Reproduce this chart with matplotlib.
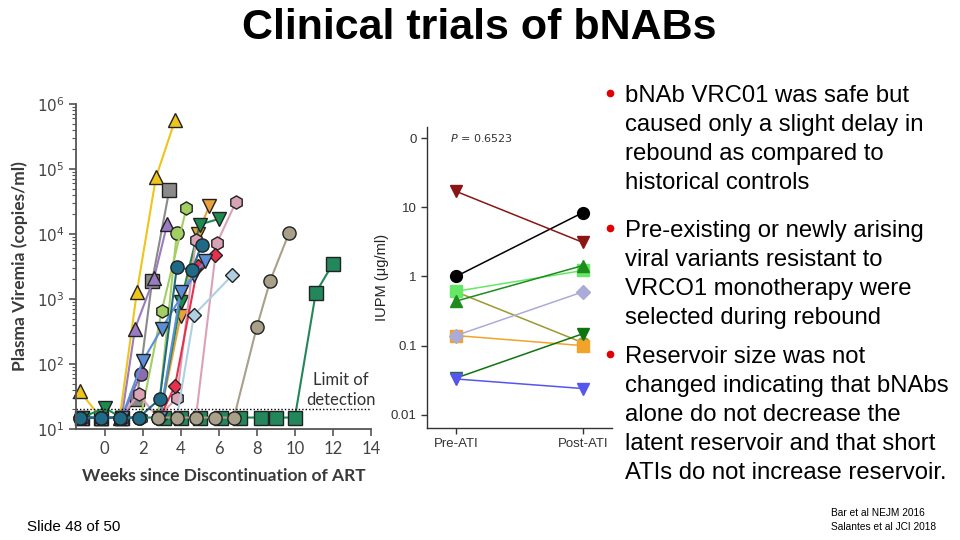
import numpy as np
import matplotlib.pyplot as plt
from matplotlib.ticker import LogLocator, FixedLocator, FixedFormatter, NullFormatter

# ---------- left panel: viremia after ART stop (weeks, copies/ml) ----------
LOD = 20

wk_yellow = [-1.3, -0.2, 0.8, 1.7, 2.7, 3.7]
vl_yellow = [38, 15, 15, 1300, 74000, 560000]
wk_grey = [-1.2, -0.2, 0.9, 1.7, 2.5, 3.4]
vl_grey = [15, 15, 15, 29, 1900, 47000]
wk_purple = [-1.2, -0.2, 0.9, 1.6, 2.6, 3.3]
vl_purple = [15, 15, 15, 350, 2100, 14500]
wk_violet = [-1.2, -0.2, 0.9, 1.9]
vl_violet = [15, 15, 15, 70]
wk_blue1 = [0.9, 2.0, 3.0, 4.7]
vl_blue1 = [15, 110, 350, 2300]
wk_blue2 = [2.9, 4.0, 5.3]
vl_blue2 = [15, 1300, 3900]
wk_lime1 = [1.9, 3.0, 4.3]
vl_lime1 = [15, 650, 25000]
wk_lime2 = [2.8, 3.8]
vl_lime2 = [15, 10500]
wk_orange = [2.9, 4.0, 4.9, 5.5]
vl_orange = [15, 550, 10000, 27000]
wk_dgreen = [-1.2, 0.0, 0.9, 2.9, 4.0, 5.0, 6.0]
vl_dgreen = [15, 21, 15, 15, 900, 14000, 17000]
wk_pink1 = [0.8, 1.8, 2.8]
vl_pink1 = [15, 34, 15]
wk_pink2 = [2.8, 3.8, 4.8]
vl_pink2 = [15, 30, 8000]
wk_pink3 = [4.8, 5.9, 6.9]
vl_pink3 = [15, 7200, 31000]
wk_red = [2.9, 3.7, 4.9, 5.8]
vl_red = [15, 46, 3200, 4700]
wk_lblue = [3.8, 4.7, 6.7]
vl_lblue = [15, 570, 2300]
wk_teal1 = [-1.3, -0.2, 0.8, 1.8, 2.9, 3.8, 4.6, 5.1]
vl_teal1 = [15, 15, 15, 15, 29, 3100, 2800, 6800]
wk_teal2 = [-1.3, -0.2, 0.8, 1.8]
vl_teal2 = [15, 15, 15, 15]
wk_gsq = [3.1, 4.0, 5.0, 6.1, 7.1, 8.2, 9.0, 10.0, 11.1, 12.0]
vl_gsq = [15, 15, 15, 15, 15, 15, 15, 15, 1250, 3500]
wk_tan = [2.8, 3.8, 4.8, 5.8, 6.8, 8.0, 8.7, 9.7]
vl_tan = [15, 15, 15, 15, 15, 370, 1900, 10500]

# ---------- right panel: IUPM pre / post ATI ----------
iupm_groups = ["Pre-ATI", "Post-ATI"]
iupm_olive = [0.60, 0.11]
iupm_orange = [0.14, 0.10]
iupm_lavender = [0.14, 0.60]
iupm_lgreen = [0.61, 1.22]
iupm_green = [0.44, 1.44]
iupm_dgreen = [0.034, 0.149]
iupm_blue = [0.033, 0.024]
iupm_black = [1.0, 8.4]
iupm_maroon = [17.0, 3.1]

fig = plt.figure(figsize=(9.6, 5.4), dpi=100)
fig.patch.set_facecolor("white")

# ---------------- left chart ----------------
axL = fig.add_axes([76/960, 1-429/540, (371-76)/960, (429-104)/540])
left_series = [
    (wk_gsq, vl_gsq, "s", "#22875A"),
    (wk_yellow, vl_yellow, "^", "#EFC41B"),
    (wk_grey, vl_grey, "s", "#8A8A8A"),
    (wk_purple, vl_purple, "^", "#9A7BBF"),
    (wk_violet, vl_violet, "o", "#8C6BB1"),
    (wk_lime2, vl_lime2, "o", "#A3CF62"),
    (wk_lime1, vl_lime1, "h", "#A3CF62"),
    (wk_orange, vl_orange, "v", "#EBA13B"),
    (wk_dgreen, vl_dgreen, "v", "#1F8A50"),
    (wk_pink1, vl_pink1, "h", "#D9A2B5"),
    (wk_pink2, vl_pink2, "h", "#D9A2B5"),
    (wk_pink3, vl_pink3, "h", "#D9A2B5"),
    (wk_red, vl_red, "D", "#E8304D"),
    (wk_lblue, vl_lblue, "D", "#AFCFE2"),
    (wk_blue1, vl_blue1, "v", "#5B8ED6"),
    (wk_blue2, vl_blue2, "v", "#5B8ED6"),
    (wk_teal1, vl_teal1, "o", "#1F6A86"),
    (wk_teal2, vl_teal2, "o", "#1F6A86"),
    (wk_tan, vl_tan, "o", "#A9A089"),
]
for wk, vl, mk, col in left_series:
    ms = 7.5 if mk == "D" else 9.5
    axL.plot(wk, vl, color=col, lw=1.5, marker=mk, ms=ms,
             mfc=col, mec="#222222", mew=1.0, clip_on=False)

axL.axhline(LOD, color="black", ls=(0, (1, 1.5)), lw=1)
axL.text(12.4, 40, "Limit of\ndetection", ha="center", va="center",
         fontsize=12, color="#333333", family="Lato", linespacing=1.35)

axL.set_yscale("log")
axL.set_ylim(10, 1e6)
axL.set_xlim(-1.5, 14)
axL.yaxis.set_major_locator(FixedLocator([1e1, 1e2, 1e3, 1e4, 1e5, 1e6]))
axL.yaxis.set_major_formatter(FixedFormatter([r"$10^{%d}$" % i for i in range(1, 7)]))
axL.yaxis.set_minor_locator(LogLocator(base=10, subs=np.arange(2, 10)))
axL.yaxis.set_minor_formatter(NullFormatter())
axL.set_xticks(range(0, 15, 2))
for s in ["top", "right"]:
    axL.spines[s].set_visible(False)
for s in ["left", "bottom"]:
    axL.spines[s].set_color("#555555")
    axL.spines[s].set_linewidth(1.3)
axL.tick_params(axis="both", which="major", colors="#555555", labelcolor="#444444",
                labelsize=12, length=5, width=1.2)
axL.tick_params(axis="y", which="major", labelsize=11)
axL.tick_params(axis="y", which="minor", colors="#555555", length=3, width=0.8)
for lab in axL.get_xticklabels():
    lab.set_family("Lato")
axL.set_xlabel("Weeks since Discontinuation of ART", fontsize=12.5,
               fontweight="bold", color="#3a3a3a", family="Lato", labelpad=8)
axL.set_ylabel("Plasma Viremia (copies/ml)", fontsize=12.5,
               fontweight="bold", color="#3a3a3a", family="Lato", labelpad=6)

# ---------------- right chart ----------------
axR = fig.add_axes([427/960, 1-428/540, (612-427)/960, (428-127)/540])
right_series = [
    (iupm_olive, "o", "#9C9A2E"),
    (iupm_orange, "s", "#F2A32A"),
    (iupm_lavender, "D", "#ABABD8"),
    (iupm_lgreen, "s", "#66E866"),
    (iupm_green, "^", "#1D8C1D"),
    (iupm_dgreen, "v", "#0F740F"),
    (iupm_blue, "v", "#5656EE"),
    (iupm_black, "o", "#000000"),
    (iupm_maroon, "v", "#8B1515"),
]
xpos = np.arange(len(iupm_groups))
for vals, mk, col in right_series:
    axR.plot(xpos, vals, color=col, lw=1.1, marker=mk, ms=8.5 if mk != "D" else 7.5,
             mfc=col, mec=col, clip_on=False)
axR.set_yscale("log")
axR.set_ylim(10**-2.19, 10**2.16)
axR.set_xlim(-0.228, 1.228)
axR.yaxis.set_major_locator(FixedLocator([0.01, 0.1, 1, 10, 100]))
axR.yaxis.set_major_formatter(FixedFormatter(["0.01", "0.1", "1", "10", "0"]))
axR.yaxis.set_minor_locator(FixedLocator([]))
axR.set_xticks(xpos)
axR.set_xticklabels(iupm_groups)
for s in ["top", "right"]:
    axR.spines[s].set_visible(False)
for s in ["left", "bottom"]:
    axR.spines[s].set_color("#333333")
    axR.spines[s].set_linewidth(1.0)
axR.tick_params(axis="both", colors="#333333", labelcolor="#333333",
                labelsize=9.5, length=4, width=1)
for lab in axR.get_xticklabels() + axR.get_yticklabels():
    lab.set_family("Liberation Sans")
axR.set_ylabel("IUPM (\u03bcg/ml)", fontsize=10.5, color="#222222", labelpad=1,
               family="Liberation Sans")
axR.text(-0.05, 100, "$P$ = 0.6523", fontsize=8, color="#333333", va="center", ha="left")

# ---------------- slide text ----------------
fig.text(479/960, 1-28/540, "Clinical trials of bNABs", ha="center", va="center",
         fontsize=31, fontweight="bold", family="Liberation Sans")

bullets = [
    (96, ["bNAb VRC01 was safe but", "caused only a slight delay in",
          "rebound as compared to", "historical controls"]),
    (231, ["Pre-existing or newly arising", "viral variants resistant to",
           "VRCO1 monotherapy were", "selected during rebound"]),
    (357, ["Reservoir size was not", "changed indicating that bNAbs",
           "alone do not decrease the", "latent reservoir and that short",
           "ATIs do not increase reservoir."]),
]
for y0, lines in bullets:
    fig.add_artist(plt.Line2D([610/960], [1-(y0-3)/540], marker="o", ms=4.5,
                              color="#E00000", transform=fig.transFigure))
    for i, line in enumerate(lines):
        fig.text(625/960, 1-(y0 + i*29)/540, line, fontsize=17.2,
                 ha="left", va="center", family="Liberation Sans")

fig.text(27/960, 1-527/540, "Slide 48 of 50", fontsize=11, va="center",
         family="Liberation Sans")
fig.text(831/960, 1-513/540, "Bar et al NEJM 2016", fontsize=7.3, va="center",
         family="Liberation Sans")
fig.text(831/960, 1-527/540, "Salantes et al JCI 2018", fontsize=7.3, va="center",
         family="Liberation Sans")

fig.savefig("out.png", dpi=100)
